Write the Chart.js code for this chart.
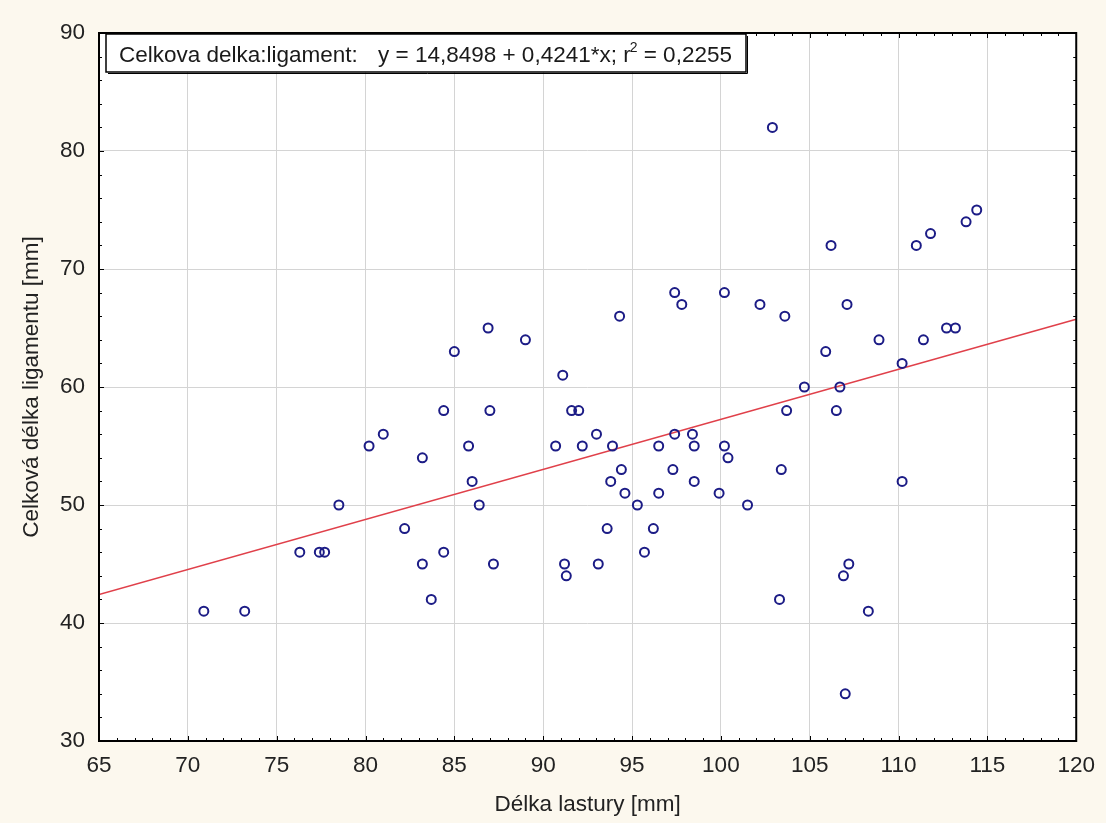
<!DOCTYPE html>
<html><head><meta charset="utf-8">
<script src="https://cdn.jsdelivr.net/npm/chart.js@4.4.1/dist/chart.umd.min.js"></script>
<style>
html,body{margin:0;padding:0;background:#fcf8ee;}
#wrap{width:1106px;height:823px;position:relative;}
</style>
</head><body>
<div id="wrap"><canvas id="c" width="1106" height="823"></canvas></div>
<script>
// Délka lastury [mm]
const shellLength = [70.9,73.2,76.3,77.4,77.7,78.5,80.2,81.0,82.2,83.2,83.2,83.7,84.4,84.4,85.0,85.8,86.0,86.4,86.9,87.0,
  87.2,89.0,90.7,91.1,91.2,91.3,91.6,92.0,92.2,93.0,93.1,93.6,93.8,93.9,94.3,94.4,94.6,95.3,95.7,96.2,
  96.5,96.5,97.3,97.4,97.4,97.8,98.4,98.5,98.5,99.9,100.2,100.2,100.4,101.5,102.2,102.9,103.3,103.4,103.6,103.7,
  104.7,105.9,106.2,106.5,106.7,106.9,107.0,107.1,107.2,108.3,108.9,110.2,110.2,111.0,111.4,111.8,112.7,113.2,113.8,114.4];
// Celková délka ligamentu [mm]
const ligamentLength = [41,41,46,46,46,50,55,56,48,54,45,42,58,46,63,55,52,50,65,58,
  45,64,55,61,45,44,58,58,55,56,45,48,52,55,66,53,51,50,46,48,
  55,51,53,56,68,67,56,55,52,51,68,55,54,50,67,82,42,53,66,58,
  60,63,72,58,60,44,34,67,45,41,64,62,52,72,64,73,65,65,74,75];
const fitIntercept = 14.8498;
const fitSlope = 0.4241;
const fitRange = [65, 120];
const xTicks = [65,70,75,80,85,90,95,100,105,110,115,120];
const yTicks = [30,40,50,60,70,80,90];
const legendLabel = 'Celkova delka:ligament:';
const legendEq = 'y = 14,8498 + 0,4241*x; r';
const legendSup = '2';
const legendEnd = ' = 0,2255';
const xTitle = 'Délka lastury [mm]';
const yTitle = 'Celková délka ligamentu [mm]';

const FONT = '"Liberation Sans", Arial, sans-serif';
const points = shellLength.map((x,i)=>({x:x, y:ligamentLength[i]}));
const fitLine = fitRange.map(x=>({x:x, y:fitIntercept + fitSlope*x}));

const framePlugin = {
  id:'frame',
  beforeDraw(chart){
    const {ctx, chartArea:a} = chart;
    ctx.save();
    ctx.fillStyle = '#ffffff';
    ctx.fillRect(a.left, a.top, a.right-a.left, a.bottom-a.top);
    ctx.restore();
  },
  afterDatasetsDraw(chart){
    const {ctx, chartArea:a, scales} = chart;
    const xs = scales.x, ys = scales.y;
    ctx.save();
    ctx.strokeStyle = '#000';
    ctx.lineWidth = 1;
    for (let v = 65; v <= 120; v += 1) {
      const px = Math.round(xs.getPixelForValue(v)) + 0.5;
      const len = (v % 5 === 0) ? 5 : 3;
      ctx.beginPath();
      ctx.moveTo(px, a.bottom); ctx.lineTo(px, a.bottom - len);
      ctx.moveTo(px, a.top); ctx.lineTo(px, a.top + len);
      ctx.stroke();
    }
    for (let v = 30; v <= 90; v += 2) {
      const py = Math.round(ys.getPixelForValue(v)) + 0.5;
      const len = (v % 10 === 0) ? 5 : 3;
      ctx.beginPath();
      ctx.moveTo(a.left, py); ctx.lineTo(a.left + len, py);
      ctx.moveTo(a.right, py); ctx.lineTo(a.right - len, py);
      ctx.stroke();
    }
    ctx.lineWidth = 2;
    ctx.strokeRect(a.left, a.top, a.right-a.left, a.bottom-a.top);
    // legend box
    const bx = a.left + 7, by = a.top + 1, bw = 640, bh = 38;
    ctx.fillStyle = '#ffffff';
    ctx.fillRect(bx, by, bw, bh);
    ctx.lineWidth = 1.5;
    ctx.strokeRect(bx, by, bw, bh);
    ctx.lineWidth = 1;
    ctx.beginPath();
    ctx.moveTo(bx+2, by+bh+1.5); ctx.lineTo(bx+bw+1.5, by+bh+1.5); ctx.lineTo(bx+bw+1.5, by+2);
    ctx.stroke();
    ctx.fillStyle = '#1a1a1a';
    ctx.textBaseline = 'alphabetic';
    ctx.font = '22.5px ' + FONT;
    let tx = bx + 13, ty = by + 28;
    ctx.fillText(legendLabel, tx, ty);
    tx = 378;
    ctx.fillText(legendEq, tx, ty);
    tx += ctx.measureText(legendEq).width;
    ctx.font = '14px ' + FONT;
    ctx.fillText(legendSup, tx - 1, ty - 10);
    tx += ctx.measureText(legendSup).width - 1;
    ctx.font = '22.5px ' + FONT;
    ctx.fillText(legendEnd, tx, ty);
    ctx.restore();
  }
};

new Chart(document.getElementById('c'), {
  type:'scatter',
  data:{
    datasets:[
      {
        type:'line',
        data: fitLine,
        borderColor:'#e0404a',
        borderWidth:1.5,
        pointRadius:0,
        fill:false,
        order:2
      },
      {
        data: points,
        pointRadius:4.5,
        pointBorderWidth:2,
        pointBorderColor:'#1c1c86',
        pointBackgroundColor:'rgba(255,255,255,0)',
        showLine:false,
        order:1
      }
    ]
  },
  options:{
    responsive:false,
    animation:false,
    devicePixelRatio:1,
    layout:{padding:{top:33, right:28, left:0, bottom:0}},
    plugins:{legend:{display:false}, tooltip:{enabled:false}},
    scales:{
      x:{
        type:'linear', min:65, max:120,
        afterBuildTicks(s){ s.ticks = xTicks.map(v=>({value:v})); },
        afterFit(s){ s.height = 82; },
        grid:{color:'#d4d4d4', lineWidth:1, drawTicks:false},
        border:{display:false},
        ticks:{font:{family:FONT, size:22.5}, color:'#222', padding:11, maxRotation:0, autoSkip:false},
        title:{display:true, text:xTitle, font:{family:FONT, size:22.5}, color:'#222', padding:{top:0,bottom:5}}
      },
      y:{
        type:'linear', min:30, max:90,
        afterBuildTicks(s){ s.ticks = yTicks.map(v=>({value:v})); },
        afterFit(s){ s.width = 99; },
        grid:{color:'#d4d4d4', lineWidth:1, drawTicks:false},
        border:{display:false},
        ticks:{font:{family:FONT, size:22.5}, color:'#222', padding:14, autoSkip:false},
        title:{display:true, text:yTitle, font:{family:FONT, size:22.5}, color:'#222', padding:{top:18,bottom:0}}
      }
    }
  },
  plugins:[framePlugin]
});
</script>
</body></html>
